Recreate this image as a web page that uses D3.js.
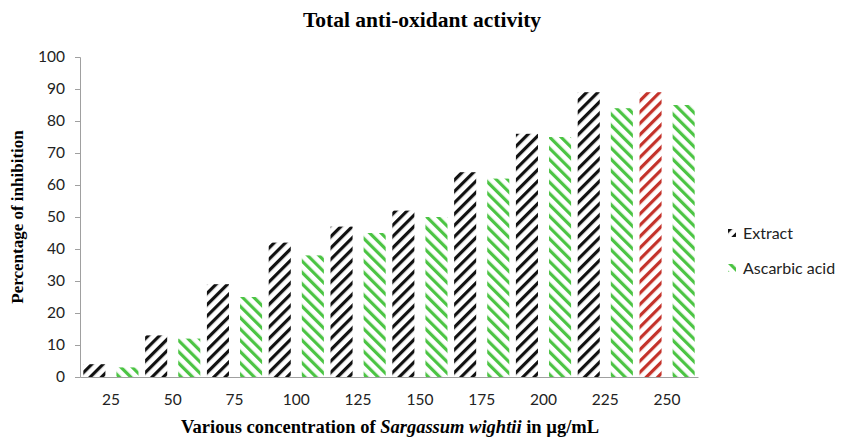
<!DOCTYPE html>
<html>
<head>
<meta charset="utf-8">
<script src="https://cdn.jsdelivr.net/npm/d3@7"></script>
<style>
  body { margin: 0; background: #fff; }
  .tick text { font-family: Lato, "Open Sans", sans-serif; font-size: 15.5px; fill: #222; }
</style>
</head>
<body>
<div id="chart"></div>
<script>
// data
const concentrations = ["25", "50", "75", "100", "125", "150", "175", "200", "225", "250"];
const seriesNames = ["Extract", "Ascarbic acid"];
const extractValues = [4, 13, 29, 42, 47, 52, 64, 76, 89, 89];
const ascorbicValues = [3, 12, 25, 38, 45, 50, 62, 75, 84, 85];
const yTicks = [0, 10, 20, 30, 40, 50, 60, 70, 80, 90, 100];
const highlighted = "250"; // the extract bar drawn in red

const W = 842, H = 438;
const margin = { top: 57, right: 144, bottom: 61, left: 80 },
  width = W - margin.left - margin.right,
  height = H - margin.top - margin.bottom;

const svg = d3.select("#chart")
  .append("svg")
  .attr("width", W)
  .attr("height", H);

// hatch patterns
const defs = svg.append("defs");
function hatch(id, color, dir) {
  const p = defs.append("pattern")
    .attr("id", id)
    .attr("patternUnits", "userSpaceOnUse")
    .attr("width", 8)
    .attr("height", 8)
    .attr("patternTransform", "rotate(" + (dir === "up" ? 45 : -45) + ")");
  p.append("rect").attr("width", 8).attr("height", 8).attr("fill", "#fff");
  p.append("rect").attr("x", 0).attr("y", 0).attr("width", 3.2).attr("height", 8).attr("fill", color);
}
hatch("hExtract", "#111111", "up");
hatch("hRed", "#c4322a", "up");
hatch("hAsc", "#4cc444", "down");

const g = svg.append("g")
  .attr("transform", "translate(" + margin.left + "," + margin.top + ")");

const x0 = d3.scaleBand().domain(concentrations).range([0, width]);
const x1 = d3.scaleBand().domain(seriesNames).range([0, x0.bandwidth()])
  .paddingInner(1 / 3).paddingOuter(0.1);
const y = d3.scaleLinear().domain([0, 100]).range([height, 0]);

// y axis
const yAxis = g.append("g")
  .call(d3.axisLeft(y).tickValues(yTicks).tickSize(5).tickPadding(10));
yAxis.select(".domain").attr("stroke", "#a0a0a0");
yAxis.selectAll(".tick line").attr("stroke", "#a0a0a0");

// bars
const rows = concentrations.map((c, i) => ({ c: c, values: [extractValues[i], ascorbicValues[i]] }));
const grp = g.selectAll(".grp")
  .data(rows)
  .enter()
  .append("g")
  .attr("transform", d => "translate(" + x0(d.c) + ",0)");

grp.selectAll("rect")
  .data(d => d.values.map((v, j) => ({ c: d.c, key: seriesNames[j], v: v })))
  .enter()
  .append("rect")
  .attr("x", d => x1(d.key))
  .attr("width", x1.bandwidth())
  .attr("y", d => y(d.v))
  .attr("height", d => y(0) - y(d.v))
  .attr("fill", d => d.key === "Extract"
    ? (d.c === highlighted ? "url(#hRed)" : "url(#hExtract)")
    : "url(#hAsc)");

// x axis
const xAxis = g.append("g")
  .attr("transform", "translate(0," + height + ")")
  .call(d3.axisBottom(x0).tickSize(0).tickPadding(17));
xAxis.select(".domain").attr("stroke", "#a0a0a0");

// title
svg.append("text")
  .attr("x", 422)
  .attr("y", 27)
  .attr("text-anchor", "middle")
  .style("font-family", "'Liberation Serif', serif")
  .style("font-weight", "bold")
  .style("font-size", "21.5px")
  .text("Total anti-oxidant activity");

// y axis title
svg.append("text")
  .attr("transform", "translate(23," + (margin.top + height / 2) + ") rotate(-90)")
  .attr("text-anchor", "middle")
  .style("font-family", "'Liberation Serif', serif")
  .style("font-weight", "bold")
  .style("font-size", "17px")
  .text("Percentage of inhibition");

// x axis title
const xt = svg.append("text")
  .attr("x", 390)
  .attr("y", 433)
  .attr("text-anchor", "middle")
  .style("font-family", "'Liberation Serif', serif")
  .style("font-weight", "bold")
  .style("font-size", "18.5px");
xt.append("tspan").text("Various concentration of ");
xt.append("tspan").style("font-style", "italic").text("Sargassum wightii");
xt.append("tspan").text(" in µg/mL");

// legend
const legend = svg.append("g").attr("transform", "translate(728,229)");
seriesNames.forEach((name, i) => {
  const row = legend.append("g").attr("transform", "translate(0," + i * 35 + ")");
  row.append("rect")
    .attr("width", 8).attr("height", 8)
    .attr("fill", i === 0 ? "url(#hExtract)" : "url(#hAsc)");
  row.append("text")
    .attr("x", 15)
    .attr("y", 10)
    .style("font-family", "Lato, 'Open Sans', sans-serif")
    .style("font-size", "16px")
    .style("fill", "#222")
    .text(name);
});
</script>
</body>
</html>
